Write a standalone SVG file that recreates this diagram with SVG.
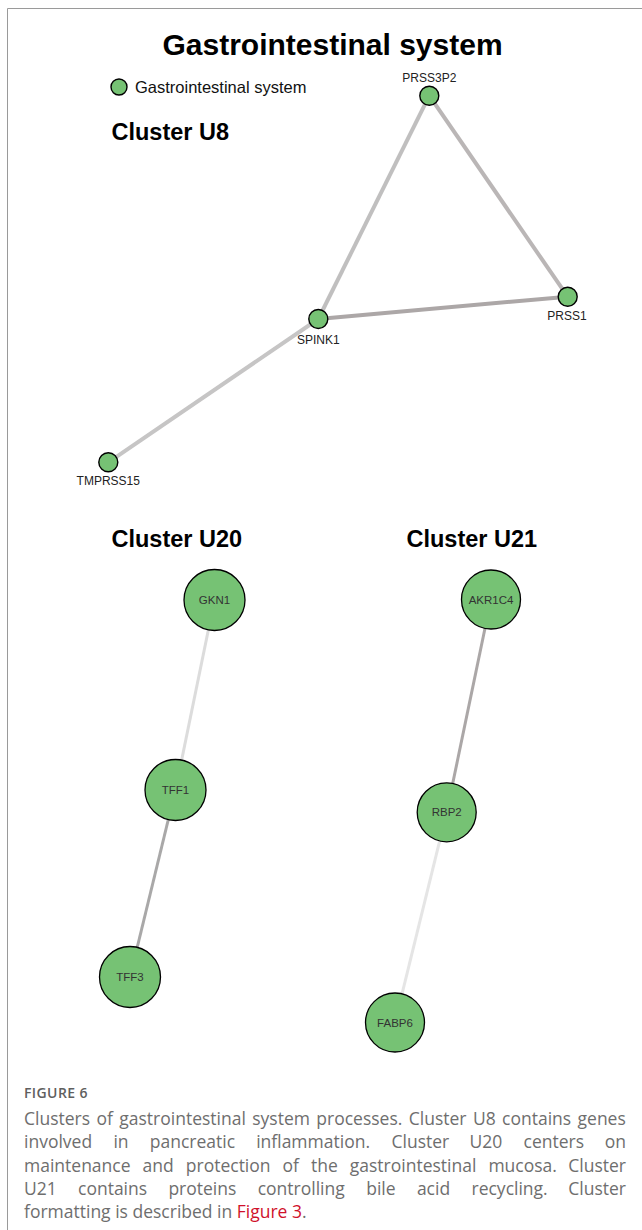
<svg xmlns="http://www.w3.org/2000/svg" width="642" height="1230" viewBox="0 0 642 1230">
<style>
.title{font-family:"Liberation Sans",Arial,sans-serif;font-weight:bold;font-size:30px;fill:#000}
.clabel{font-family:"Liberation Sans",Arial,sans-serif;font-weight:bold;font-size:23.5px;fill:#000}
.legend{font-family:"Liberation Sans",Arial,sans-serif;font-size:16.5px;fill:#111}
.small{fill:#76c274;stroke:#000;stroke-width:1.4}
.big{fill:#76c274;stroke:#000;stroke-width:1.3}
.lbl{font-family:"Liberation Sans",Arial,sans-serif;font-size:12px;fill:#222;text-anchor:middle}
.inl{font-family:"Liberation Sans",Arial,sans-serif;font-size:11.5px;fill:#333;text-anchor:middle}
.e4{fill:none;stroke-width:4;stroke-linecap:butt}
.e3{fill:none;stroke-width:3;stroke-linecap:butt}
.fig{font-family:"Open Sans","Noto Sans",sans-serif;font-size:14px;font-weight:600;fill:#5f5f5f;letter-spacing:0.4px}
.cap{font-family:"Open Sans","Noto Sans",sans-serif;font-size:17.5px;fill:#6e6e6e}
.red{fill:#d0112b}
</style>
<g id="frame">
<path d="M7.5 1230 V8.5 H642" fill="none" stroke="#9a9a9a" stroke-width="1"/>
</g>
<g id="title"><text class="title" x="332.5" y="55" text-anchor="middle">Gastrointestinal system</text></g>
<g id="legend">
<circle class="small" cx="119" cy="87" r="8"/>
<text class="legend" x="135" y="92.5">Gastrointestinal system</text>
</g>
<g id="cluster-labels">
<text class="clabel" x="111.5" y="139.5">Cluster U8</text>
<text class="clabel" x="111.5" y="547">Cluster U20</text>
<text class="clabel" x="406.5" y="547">Cluster U21</text>
</g>
<g id="connectors">
<line class="e4" x1="429.3" y1="95.7" x2="318.3" y2="319" stroke="#c0bfbf"/>
<line class="e4" x1="429.3" y1="95.7" x2="567.7" y2="296.7" stroke="#bab6b6"/>
<line class="e4" x1="318.3" y1="319" x2="567.7" y2="296.7" stroke="#aca7a7"/>
<line class="e4" x1="318.3" y1="319" x2="108.3" y2="462.3" stroke="#c6c5c5"/>
<line class="e3" x1="214.5" y1="600" x2="175.5" y2="790" stroke="#dcdcdc"/>
<line class="e3" x1="175.5" y1="790" x2="130" y2="977" stroke="#a9a8a8"/>
<line class="e3" x1="491" y1="599.5" x2="446.7" y2="812.3" stroke="#aba7a7"/>
<line class="e3" x1="446.7" y1="812.3" x2="395" y2="1022.5" stroke="#e5e5e5"/>
</g>
<g id="node-PRSS3P2"><circle class="small" cx="429.3" cy="95.7" r="9.5"/><text class="lbl" x="429.3" y="81.5">PRSS3P2</text></g>
<g id="node-PRSS1"><circle class="small" cx="567.7" cy="296.7" r="9.5"/><text class="lbl" x="567" y="320">PRSS1</text></g>
<g id="node-SPINK1"><circle class="small" cx="318.3" cy="319" r="9.5"/><text class="lbl" x="318.3" y="344">SPINK1</text></g>
<g id="node-TMPRSS15"><circle class="small" cx="108.3" cy="462.3" r="9.5"/><text class="lbl" x="108.3" y="485">TMPRSS15</text></g>
<g id="node-GKN1"><circle class="big" cx="214.5" cy="600" r="30.5"/><text class="inl" x="214.5" y="604">GKN1</text></g>
<g id="node-TFF1"><circle class="big" cx="175.5" cy="790" r="30.5"/><text class="inl" x="175.5" y="794">TFF1</text></g>
<g id="node-TFF3"><circle class="big" cx="130" cy="977" r="30.5"/><text class="inl" x="130" y="981">TFF3</text></g>
<g id="node-AKR1C4"><circle class="big" cx="491" cy="599.5" r="29.5"/><text class="inl" x="491" y="603.5">AKR1C4</text></g>
<g id="node-RBP2"><circle class="big" cx="446.7" cy="812.3" r="29.5"/><text class="inl" x="446.7" y="816.3">RBP2</text></g>
<g id="node-FABP6"><circle class="big" cx="395" cy="1022.5" r="29.5"/><text class="inl" x="395" y="1026.5">FABP6</text></g>
<g id="caption">
<text class="fig" x="24" y="1098">FIGURE 6</text>
<text class="cap" x="24" y="1125" word-spacing="1.85">Clusters of gastrointestinal system processes. Cluster U8 contains genes</text>
<text class="cap" y="1148.3"><tspan x="24">involved</tspan><tspan x="113.4">in</tspan><tspan x="149.8">pancreatic</tspan><tspan x="256.2">inflammation.</tspan><tspan x="391.5">Cluster</tspan><tspan x="469.6">U20</tspan><tspan x="523.5">centers</tspan></text>
<text class="cap" x="626" y="1148.3" text-anchor="end">on</text>
<text class="cap" y="1171.7"><tspan x="24">maintenance</tspan><tspan x="142.6">and</tspan><tspan x="185.8">protection</tspan><tspan x="282.5">of</tspan><tspan x="311">the</tspan><tspan x="349.8">gastrointestinal</tspan><tspan x="488.4">mucosa.</tspan></text>
<text class="cap" x="626" y="1171.7" text-anchor="end">Cluster</text>
<text class="cap" y="1194.8"><tspan x="24">U21</tspan><tspan x="78">contains</tspan><tspan x="168.4">proteins</tspan><tspan x="257.7">controlling</tspan><tspan x="366.2">bile</tspan><tspan x="416.9">acid</tspan><tspan x="471.5">recycling.</tspan></text>
<text class="cap" x="626" y="1194.8" text-anchor="end">Cluster</text>
<text class="cap" x="24" y="1217.8">formatting is described in <tspan class="red">Figure 3</tspan>.</text>
</g>
</svg>
